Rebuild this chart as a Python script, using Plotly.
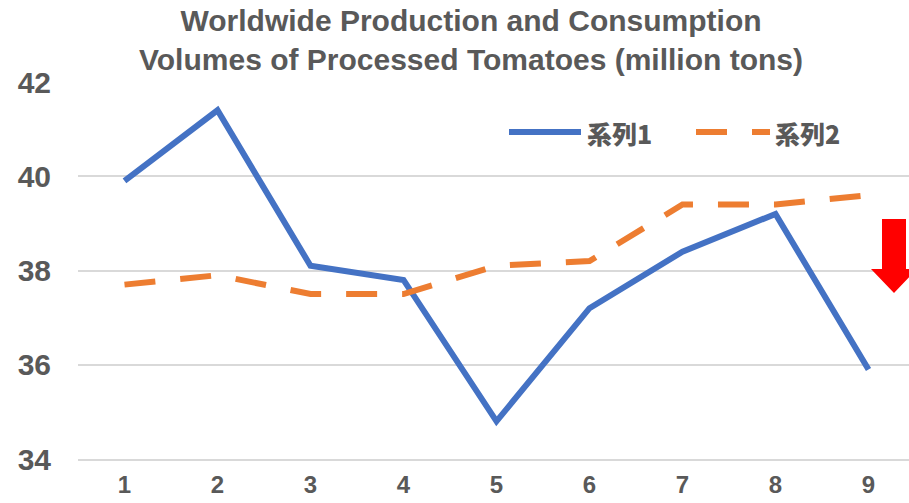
import plotly.graph_objects as go

# Series data
categories = [1, 2, 3, 4, 5, 6, 7, 8, 9]
series1 = [39.9, 41.4, 38.1, 37.8, 34.8, 37.2, 38.4, 39.2, 35.9]
series2 = [37.7, 37.9, 37.5, 37.5, 38.1, 38.2, 39.4, 39.4, 39.6]
series_names = ["系列1", "系列2"]
y_ticks = [34, 36, 38, 40, 42]

BLUE = "#4472C4"
ORANGE = "#ED7D31"
TEXT = "#595959"
GRID = "#D9D9D9"

W, H = 909, 503
L, R, T, B = 78, 0, 82, 44
PW, PH = W - L - R, H - T - B


def px(x):
    return (x - L) / PW


def py(y):
    return 1 - (y - T) / PH


fig = go.Figure()
fig.add_trace(go.Scatter(x=categories, y=series1, mode="lines", name=series_names[0],
                         line=dict(color=BLUE, width=6), showlegend=False))
fig.add_trace(go.Scatter(x=categories, y=series2, mode="lines", name=series_names[1],
                         line=dict(color=ORANGE, width=6, dash="31px,25px"), showlegend=False))

shapes = []
# legend samples
shapes.append(dict(type="line", xref="paper", yref="paper", x0=px(509), x1=px(581),
                   y0=py(132), y1=py(132), line=dict(color=BLUE, width=6)))
shapes.append(dict(type="line", xref="paper", yref="paper", x0=px(696), x1=px(770),
                   y0=py(132), y1=py(132), line=dict(color=ORANGE, width=6, dash="31px,25px")))
# red down arrow
arrow = [(882, 219), (906, 219), (906, 269), (917, 269), (894, 293), (871, 269), (882, 269)]
path = "M " + " L ".join(f"{px(a)},{py(b)}" for a, b in arrow) + " Z"
shapes.append(dict(type="path", xref="paper", yref="paper", path=path,
                   fillcolor="#FF0000", line=dict(width=0)))

legend_font = dict(family="Noto Sans CJK JP", size=25, color=TEXT, weight=900)
annotations = [
    dict(text=series_names[0], xref="paper", yref="paper", x=px(585), y=py(133),
         xanchor="left", yanchor="middle", showarrow=False, font=legend_font),
    dict(text=series_names[1], xref="paper", yref="paper", x=px(773), y=py(133),
         xanchor="left", yanchor="middle", showarrow=False, font=legend_font),
]

fig.update_layout(
    width=W, height=H,
    margin=dict(l=L, r=R, t=T, b=B),
    paper_bgcolor="white", plot_bgcolor="white",
    title=dict(text="Worldwide Production and Consumption<br>Volumes of Processed Tomatoes (million tons)",
               xref="container", yref="container",
               x=471 / W, xanchor="center", y=1 - 31 / H, yanchor="middle",
               font=dict(family="Liberation Sans", size=30, color=TEXT, weight="bold")),
    shapes=shapes,
    annotations=annotations,
    xaxis=dict(range=[0.5, 0.5 + PW / 93.0], tickvals=categories, showgrid=False,
               zeroline=False, showline=True, linecolor=GRID, linewidth=2,
               ticks="", ticklabelstandoff=3, automargin=False,
               tickfont=dict(family="Liberation Sans", size=24, color=TEXT, weight="bold")),
    yaxis=dict(range=[34, 42], tickvals=y_ticks, showgrid=True, gridcolor=GRID, gridwidth=2,
               zeroline=False, showline=False, ticks="", ticklabelstandoff=26, automargin=False,
               tickfont=dict(family="Liberation Sans", size=30, color=TEXT, weight="bold")),
)

fig.write_html("out.html")
